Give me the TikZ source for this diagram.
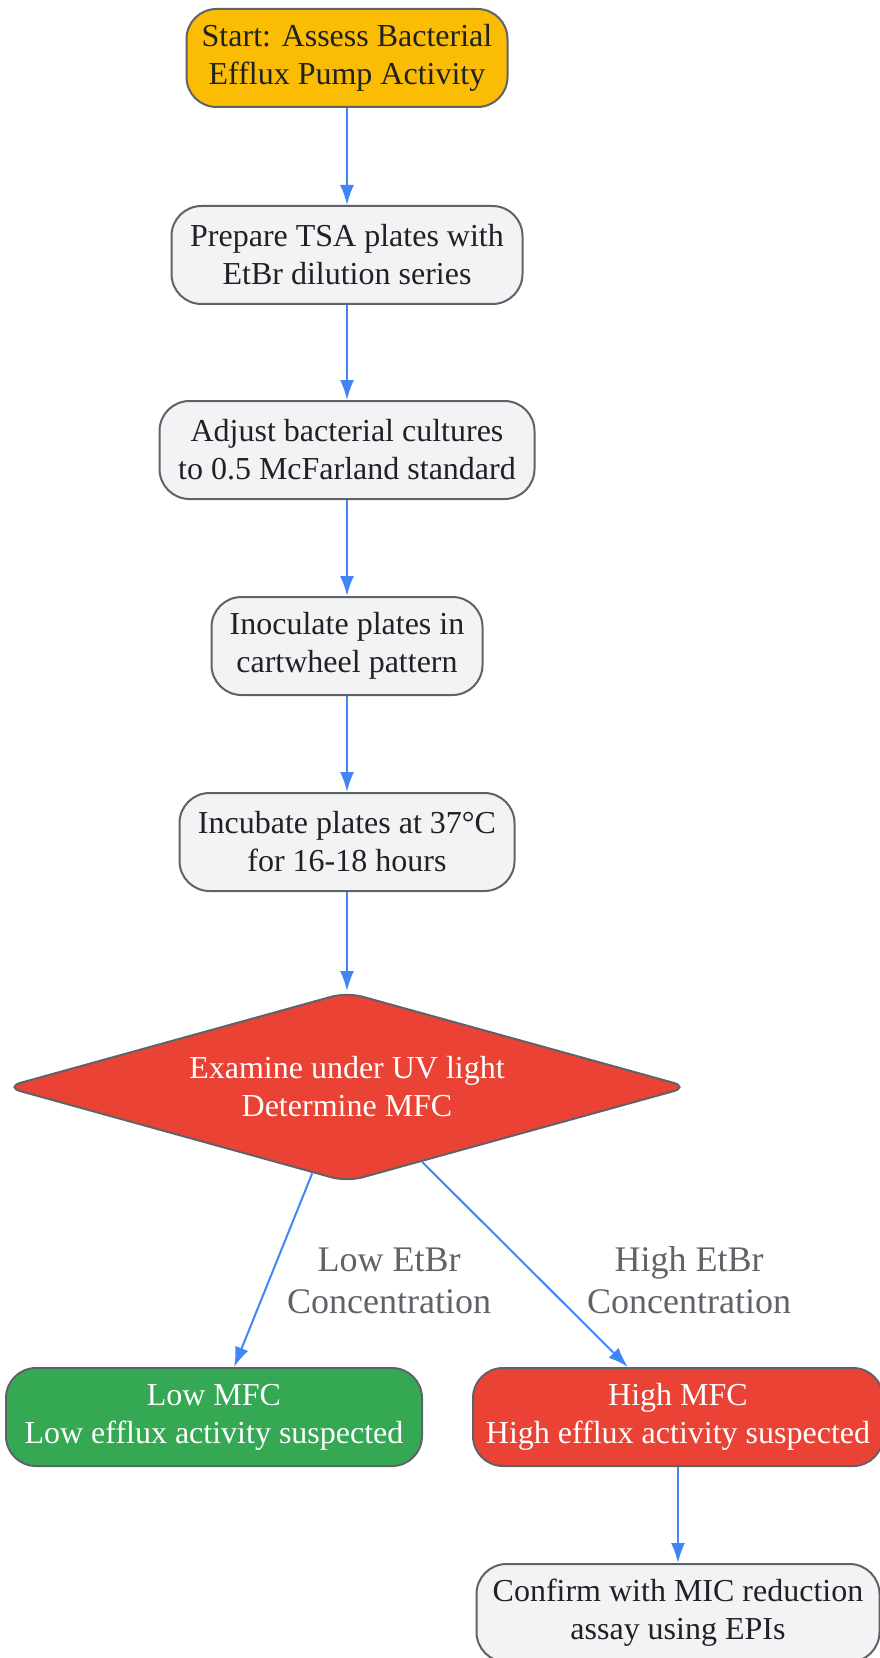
\documentclass[tikz,border=0pt]{standalone}
\usepackage{fontspec}
\setmainfont{Liberation Serif}
\usetikzlibrary{shapes.geometric,arrows.meta}
\definecolor{startyellow}{HTML}{FBBC04}
\definecolor{stepgray}{HTML}{F1F3F4}
\definecolor{alertred}{HTML}{EA4335}
\definecolor{okgreen}{HTML}{34A853}
\definecolor{flowblue}{HTML}{4285F4}
\definecolor{edgegray}{HTML}{5F6368}
\definecolor{ink}{HTML}{202124}

\begin{document}
\begin{tikzpicture}[x=1pt, y=1pt,
    box/.style={draw=edgegray, line width=1pt, rounded corners=15pt, align=center,
        inner sep=0pt, minimum height=49pt, text=ink, font=\fontsize{16}{19}\selectfont},
    flow/.style={draw=flowblue, line width=1pt, -{Latex[length=10pt,width=7pt]}},
    cond/.style={text=edgegray, align=center, font=\fontsize{18}{21}\selectfont}]
    \useasboundingbox (0,0) rectangle (439.5,-829);

    % main column
    \node[box, fill=startyellow, minimum width=160.5pt] (start) at (173.5,-29) {Start: Assess Bacterial\\Efflux Pump Activity};
    \node[box, fill=stepgray, minimum width=175.5pt] (prep) at (173.5,-127.5) {Prepare TSA plates with\\EtBr dilution series};
    \node[box, fill=stepgray, minimum width=187.5pt] (adjust) at (173.5,-225) {Adjust bacterial cultures\\to 0.5 McFarland standard};
    \node[box, fill=stepgray, minimum width=135.5pt] (inoc) at (173.5,-323) {Inoculate plates in\\cartwheel pattern};
    \node[box, fill=stepgray, minimum width=167.5pt] (incub) at (173.5,-421) {Incubate plates at 37°C\\for 16-18 hours};

    % decision
    \node[diamond, aspect=3.6, draw=edgegray, line width=1pt, rounded corners=8pt, fill=alertred,
        text=white, align=center, inner sep=0pt, minimum width=342pt, minimum height=95pt,
        font=\fontsize{16}{19}\selectfont] (exam) at (173.5,-543.5) {Examine under UV light\\Determine MFC};

    % outcomes
    \node[box, fill=okgreen, text=white, minimum width=208pt] (low) at (107,-708.5) {Low MFC\\Low efflux activity suspected};
    \node[box, fill=alertred, text=white, minimum width=205pt] (high) at (339,-708.5) {High MFC\\High efflux activity suspected};
    \node[box, fill=stepgray, minimum width=201.5pt] (confirm) at (339,-806.5) {Confirm with MIC reduction\\assay using EPIs};

    % arrows
    \draw[flow] (start) -- (prep);
    \draw[flow] (prep) -- (adjust);
    \draw[flow] (adjust) -- (inoc);
    \draw[flow] (inoc) -- (incub);
    \draw[flow] (incub) -- (exam);
    \draw[flow] (exam) -- node[cond, midway, xshift=58pt, yshift=-5.5pt] {Low EtBr\\Concentration} (low);
    \draw[flow] (exam) -- node[cond, midway, xshift=82pt, yshift=-8pt] {High EtBr\\Concentration} (high);
    \draw[flow] (high) -- (confirm);
\end{tikzpicture}
\end{document}
